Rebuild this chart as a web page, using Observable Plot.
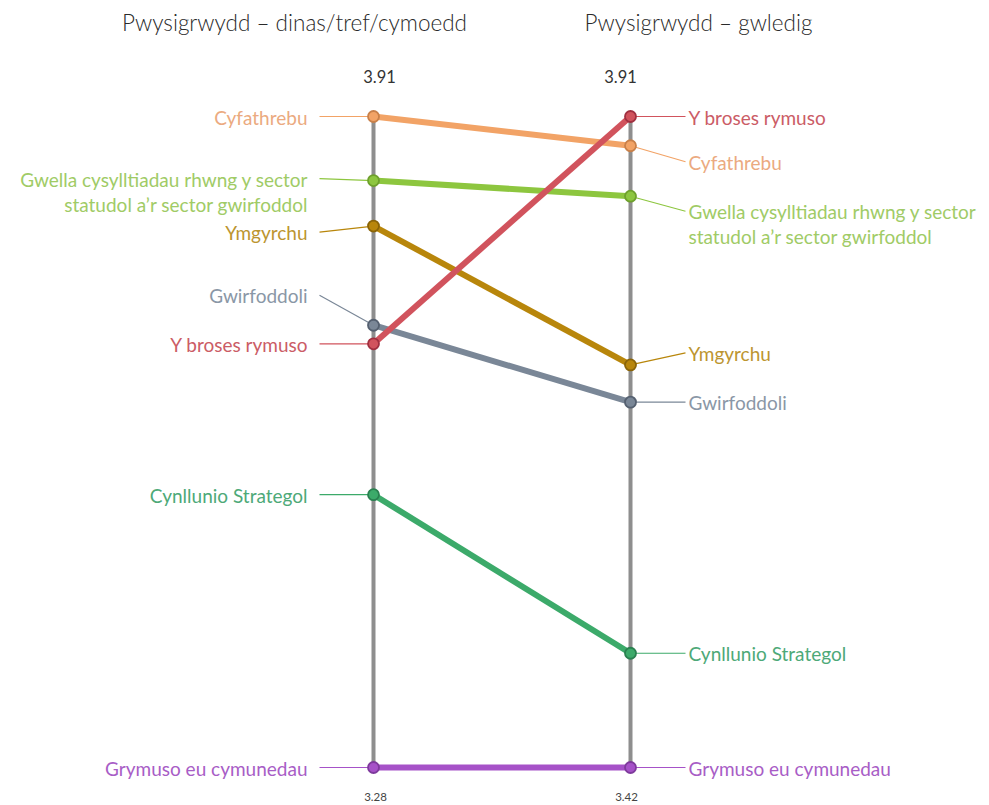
<!DOCTYPE html>
<html><head><meta charset="utf-8">
<script src="https://cdn.jsdelivr.net/npm/d3@7"></script>
<script src="https://cdn.jsdelivr.net/npm/@observablehq/plot@0.6"></script>
<style>body{margin:0;background:#fff}</style>
</head><body><div id="chart"></div>
<script>
// ---- data ----
const categories = [
  "Cyfathrebu",
  "Gwella cysylltiadau rhwng y sector\nstatudol a’r sector gwirfoddol",
  "Ymgyrchu",
  "Gwirfoddoli",
  "Y broses rymuso",
  "Cynllunio Strategol",
  "Grymuso eu cymunedau"
];
const urbanValues = [3.91, 3.848, 3.804, 3.708, 3.69, 3.544, 3.28];
const ruralValues = [3.888, 3.85, 3.723, 3.695, 3.91, 3.506, 3.42];
const axisTitles = ["Pwysigrwydd – dinas/tref/cymoedd", "Pwysigrwydd – gwledig"];
const urbanRange = [3.28, 3.91];
const ruralRange = [3.42, 3.91];
const urbanTickLabels = ["3.28", "3.91"];
const ruralTickLabels = ["3.42", "3.91"];

// ---- styles / layout ----
const lineColors  = ["#F2A366", "#8DC63F", "#B8860B", "#7A8797", "#D1535D", "#3CAA6A", "#A652C8"];
const dotStrokes  = ["#C8804A", "#6EA02C", "#8A6408", "#556070", "#A03040", "#2A8050", "#7E3A9C"];
const labelColors = ["#EBAA80", "#A0CB66", "#BC9530", "#8A97A6", "#CB5C66", "#4DA978", "#A85DC6"];
// px offset of label anchor vs its point, in category order
const leftNudge  = [0, -2, 6, -30, 0, 0, 0];
const rightNudge = [16, 15, -12, 0, 0, 0, 0];
const FONT = "Lato, 'Open Sans', sans-serif";
const W = 989, H = 805;
const X0 = 373, X1 = 630, YB = 767, YT = 116;
const LH = 25, LFS = 19;

const xS = d3.scaleLinear([0, 1], [X0, X1]);
const yS = d3.scaleLinear([0, 1], [YB, YT]);
const norm = (v, r) => (v - r[0]) / (r[1] - r[0]);

const rows = [];
categories.forEach((c, i) => {
  [[0, urbanValues[i], urbanRange, leftNudge[i]], [1, ruralValues[i], ruralRange, rightNudge[i]]].forEach(([side, v, r, nud]) => {
    const n = norm(v, r);
    const lines = c.split("\n").length;
    const anchorPx = yS(n) + nud;
    rows.push({
      side, cat: c, value: v, n, i,
      color: lineColors[i], stroke: dotStrokes[i], labelColor: labelColors[i],
      connY: yS.invert(anchorPx),
      textY: yS.invert(anchorPx + (lines - 1) * LH / 2),
      connX: xS.invert(side === 0 ? X0 - 54 : X1 + 55)
    });
  });
});
const pairs = categories.map((c, i) => ({
  cat: c, i,
  n0: norm(urbanValues[i], urbanRange),
  n1: norm(ruralValues[i], ruralRange),
  color: lineColors[i]
}));
const left = rows.filter(d => d.side === 0);
const right = rows.filter(d => d.side === 1);

const chart = Plot.plot({
  width: W, height: H,
  margin: 0,
  style: {fontFamily: FONT, background: "#fff"},
  x: {type: "linear", domain: [0, 1], range: [X0, X1], axis: null},
  y: {type: "linear", domain: [0, 1], range: [YB, YT], axis: null},
  marks: [
    // axes
    Plot.ruleX([0, 1], {x: d => d, y1: 0, y2: 1, stroke: "#8E8E8E", strokeWidth: 4}),
    // connectors
    Plot.link(rows, {x1: "side", y1: "n", x2: "connX", y2: "connY", stroke: "color", strokeWidth: 1.2}),
    // slope lines
    Plot.link(pairs, {x1: 0, y1: "n0", x2: 1, y2: "n1", stroke: "color", strokeWidth: 6}),
    // dots
    Plot.dot(rows, {x: "side", y: "n", r: 5.5, fill: "color", stroke: "stroke", strokeWidth: 1.8}),
    // labels
    Plot.text(left, {x: "side", y: "textY", text: "cat", fill: "labelColor", textAnchor: "end", dx: -66, fontSize: LFS, lineHeight: LH / LFS}),
    Plot.text(right, {x: "side", y: "textY", text: "cat", fill: "labelColor", textAnchor: "start", dx: 58, fontSize: LFS, lineHeight: LH / LFS}),
    // axis extreme labels
    Plot.text([urbanTickLabels[1]], {x: 0, y: 1, text: d => d, dx: 6, dy: -39, fontSize: 16.5, fill: "#333", letterSpacing: 1.5}),
    Plot.text([ruralTickLabels[1]], {x: 1, y: 1, text: d => d, dx: -10, dy: -39, fontSize: 16.5, fill: "#333", letterSpacing: 1.5}),
    Plot.text([urbanTickLabels[0]], {x: 0, y: 0, text: d => d, dx: 2, dy: 30, fontSize: 11.5, fill: "#444", letterSpacing: 0.5}),
    Plot.text([ruralTickLabels[0]], {x: 1, y: 0, text: d => d, dx: -4, dy: 30, fontSize: 11.5, fill: "#444", letterSpacing: 0.5}),
    // titles
    Plot.text([axisTitles[0]], {x: 0, y: 1, text: d => d, dx: -79, dy: -93, fontSize: 22.5, fill: "#2a2a2a", fontWeight: 300}),
    Plot.text([axisTitles[1]], {x: 1, y: 1, text: d => d, dx: 68, dy: -93, fontSize: 22.5, fill: "#2a2a2a", fontWeight: 300})
  ]
});
document.getElementById("chart").appendChild(chart);
</script>
</body></html>
